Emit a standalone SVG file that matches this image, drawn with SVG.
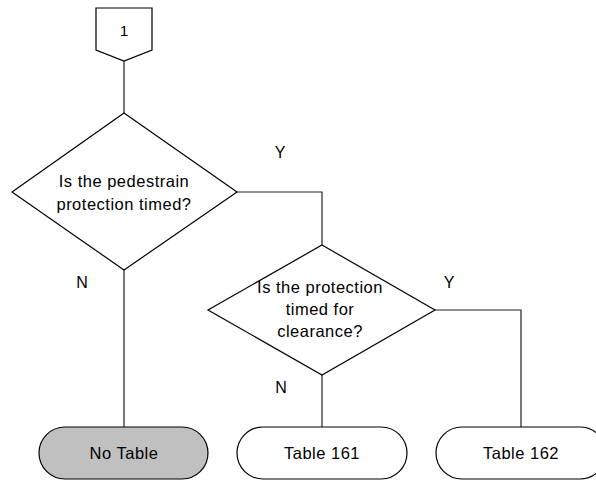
<svg xmlns="http://www.w3.org/2000/svg" width="596" height="480" viewBox="0 0 596 480">
<style>
.shape{fill:#ffffff;stroke:#000000;stroke-width:1.2}
.grey{fill:#c0c0c0}
.conn{fill:none;stroke:#222222;stroke-width:1.2}
text{font-family:"Liberation Sans",Arial,sans-serif;font-size:16.5px;letter-spacing:0.5px;fill:#000000;text-anchor:middle}
.lbl{font-size:16px;letter-spacing:0}
.small{font-size:15.5px;letter-spacing:0}
</style>
<rect width="596" height="480" fill="#ffffff"/>
<g id="connectors">
<path class="conn" d="M124 61 V113"/>
<path class="conn" d="M237 192 H322 V245"/>
<path class="conn" d="M124 270 V427"/>
<path class="conn" d="M322 375 V427"/>
<path class="conn" d="M435 310 H521 V427"/>
<text class="lbl" x="280" y="158">Y</text>
<text class="lbl" x="449" y="288">Y</text>
<text class="lbl" x="82" y="288">N</text>
<text class="lbl" x="281" y="393">N</text>
</g>
<g id="offpage">
<polygon class="shape" points="96,8 152,8 152,50 124,61 96,50"/>
<text class="small" x="124" y="36">1</text>
</g>
<g id="decision1">
<polygon class="shape" points="124,113 237,192 124,270 12,192"/>
<text x="124" y="187">Is the pedestrain</text>
<text x="124" y="210">protection timed?</text>
</g>
<g id="decision2">
<polygon class="shape" points="322,245 435,310 322,375 208,310"/>
<text x="320" y="293">Is the protection</text>
<text x="320" y="315">timed for</text>
<text x="320" y="337">clearance?</text>
</g>
<g id="notable">
<rect class="shape grey" x="39" y="427" width="169" height="52" rx="26" ry="26"/>
<text x="124" y="459">No Table</text>
</g>
<g id="table161">
<rect class="shape" x="237" y="427" width="170" height="52" rx="26" ry="26"/>
<text x="322" y="459">Table 161</text>
</g>
<g id="table162">
<rect class="shape" x="436" y="427" width="170" height="52" rx="26" ry="26"/>
<text x="521" y="459">Table 162</text>
</g>
</svg>
